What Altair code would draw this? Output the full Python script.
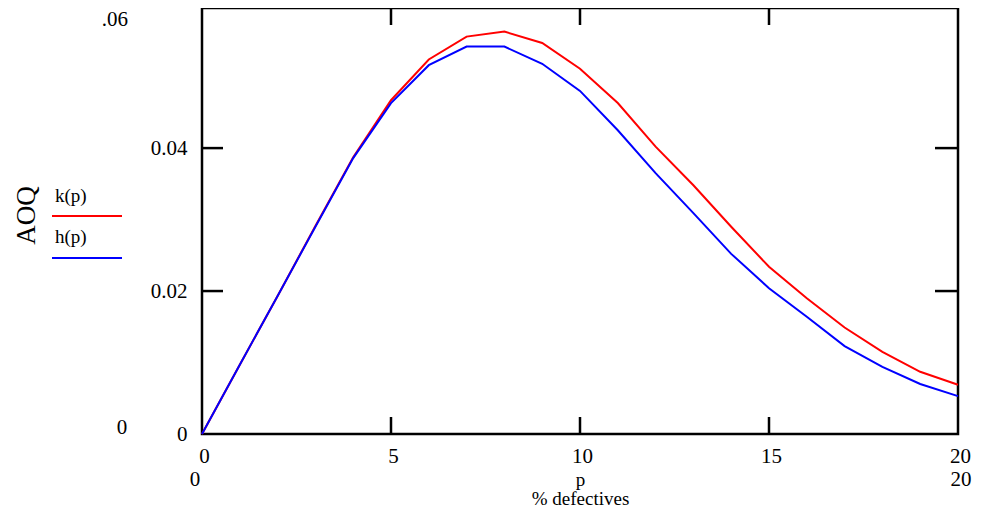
import altair as alt
import pandas as pd

# ---- data ----
p_vals = list(range(21))
k_vals = [0, 0.0097, 0.0193, 0.0291, 0.0387, 0.0467, 0.0524, 0.0556, 0.0563, 0.0547,
          0.0511, 0.0463, 0.0402, 0.0348, 0.0290, 0.0234, 0.0190, 0.0149, 0.0115,
          0.0087, 0.0069]
h_vals = [0, 0.0097, 0.0193, 0.0290, 0.0386, 0.0463, 0.0516, 0.0542, 0.0542, 0.0518,
          0.0480, 0.0425, 0.0365, 0.0309, 0.0252, 0.0204, 0.0164, 0.0123, 0.0094,
          0.0070, 0.0053]
series_names = ["k(p)", "h(p)"]
series_colors = ["#ff0000", "#0000ff"]
x_tick_vals = [0, 5, 10, 15, 20]
x_inner_ticks = [5, 10, 15]
y_tick_vals = [0, 0.02, 0.04]
y_inner_ticks = [0.02, 0.04]
x_range_labels = [0, 20]

FONT = "Liberation Serif"
W, H = 756, 426
YMAX = 0.0596

df = pd.DataFrame(
    {"p": p_vals * 2,
     "v": k_vals + h_vals,
     "s": [series_names[0]] * len(p_vals) + [series_names[1]] * len(p_vals)}
)

xs = alt.Scale(domain=[0, 20], nice=False, zero=False)
ys = alt.Scale(domain=[0, YMAX], nice=False, zero=False)

lines = alt.Chart(df).mark_line(strokeWidth=2).encode(
    x=alt.X("p:Q", scale=xs,
            axis=alt.Axis(values=x_tick_vals, domain=False, ticks=False, grid=False,
                          labelFont=FONT, labelFontSize=21, labelColor="black",
                          labelPadding=11, labelFlush=False, labelOffset=2,
                          labelOverlap=False,
                          title=["p", "% defectives"], titleFont=FONT,
                          titleFontSize=19, titleFontWeight="normal",
                          titleColor="black", titleY=51,
                          titleBaseline="alphabetic", titleLineHeight=19)),
    y=alt.Y("v:Q", scale=ys,
            axis=alt.Axis(values=y_tick_vals, domain=False, ticks=False, grid=False,
                          labelFont=FONT, labelFontSize=21, labelColor="black",
                          labelPadding=15, labelFlush=False, labelOverlap=False,
                          labelExpr="datum.value == 0 ? '0' : format(datum.value, '.2f')",
                          title="AOQ", titleFont=FONT, titleFontSize=27,
                          titleFontWeight="normal", titleColor="black",
                          titleAngle=270, titleX=-176, titleY=207,
                          titleAlign="center", titleBaseline="middle")),
    color=alt.Color("s:N", scale=alt.Scale(domain=series_names, range=series_colors),
                    legend=None),
)

ydf = pd.DataFrame({"t": y_inner_ticks})
xdf = pd.DataFrame({"t": x_inner_ticks})

left_ticks = alt.Chart(ydf).mark_rule(color="black", strokeWidth=2.5).encode(
    y=alt.Y("t:Q", scale=ys), x=alt.value(0), x2=alt.value(21))
right_ticks = alt.Chart(ydf).mark_rule(color="black", strokeWidth=2.5).encode(
    y=alt.Y("t:Q", scale=ys), x=alt.value(W - 23), x2=alt.value(W))
bottom_ticks = alt.Chart(xdf).mark_rule(color="black", strokeWidth=2.5).encode(
    x=alt.X("t:Q", scale=xs), y=alt.value(H - 17), y2=alt.value(H))
top_ticks = alt.Chart(xdf).mark_rule(color="black", strokeWidth=2.5).encode(
    x=alt.X("t:Q", scale=xs), y=alt.value(0), y2=alt.value(17))

# second row of x labels (range limits)
rdf = pd.DataFrame({"t": x_range_labels, "lab": [str(v) for v in x_range_labels]})
range_lab0 = alt.Chart(rdf[rdf.t == 0]).mark_text(
    font=FONT, fontSize=21, color="black", dx=-7, baseline="middle").encode(
    x=alt.X("t:Q", scale=xs), y=alt.value(472), text="lab:N")
range_lab1 = alt.Chart(rdf[rdf.t == 20]).mark_text(
    font=FONT, fontSize=21, color="black", dx=3, baseline="middle").encode(
    x=alt.X("t:Q", scale=xs), y=alt.value(472), text="lab:N")

# y range labels (Mathcad style)
ytop = alt.Chart(pd.DataFrame({"lab": [".06"]})).mark_text(
    font=FONT, fontSize=21, color="black", align="right", baseline="middle").encode(
    x=alt.value(-74), y=alt.value(12), text="lab:N")
ybot = alt.Chart(pd.DataFrame({"lab": ["0"]})).mark_text(
    font=FONT, fontSize=21, color="black", align="center", baseline="middle").encode(
    x=alt.value(-80), y=alt.value(420), text="lab:N")

# custom legend: label above a line segment
leg_k_txt = alt.Chart(pd.DataFrame({"lab": [series_names[0]]})).mark_text(
    font=FONT, fontSize=19, color="black", align="left", baseline="middle").encode(
    x=alt.value(-147), y=alt.value(188), text="lab:N")
leg_h_txt = alt.Chart(pd.DataFrame({"lab": [series_names[1]]})).mark_text(
    font=FONT, fontSize=19, color="black", align="left", baseline="middle").encode(
    x=alt.value(-147), y=alt.value(229), text="lab:N")
leg_k_line = alt.Chart(pd.DataFrame({"a": [0]})).mark_rule(
    color=series_colors[0], strokeWidth=2).encode(
    x=alt.value(-150), x2=alt.value(-80), y=alt.value(208))
leg_h_line = alt.Chart(pd.DataFrame({"a": [0]})).mark_rule(
    color=series_colors[1], strokeWidth=2).encode(
    x=alt.value(-150), x2=alt.value(-80), y=alt.value(250))

chart = alt.layer(
    lines, left_ticks, right_ticks, bottom_ticks, top_ticks,
    range_lab0, range_lab1, ytop, ybot,
    leg_k_txt, leg_h_txt, leg_k_line, leg_h_line,
).properties(
    width=W, height=H,
    autosize=alt.AutoSizeParams(type="none"),
    padding={"left": 194, "top": 0, "right": 15, "bottom": 74},
    background="white",
).configure_view(stroke="black", strokeWidth=2.5)

chart.save("out.html", embed_options={"renderer": "svg", "actions": False})
